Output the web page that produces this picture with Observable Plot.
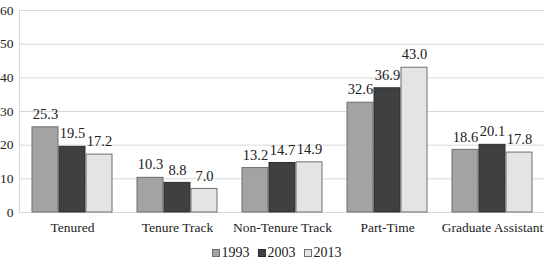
<!DOCTYPE html>
<html>
<head>
<meta charset="utf-8">
<script src="https://cdn.jsdelivr.net/npm/d3@7"></script>
<script src="https://cdn.jsdelivr.net/npm/@observablehq/plot@0.6"></script>
<style>
  html, body { margin: 0; padding: 0; background: #fff; }
  #chart { position: relative; width: 553px; height: 240px; }
  #chart svg { position: absolute; left: 0; top: 0; font-family: 'Liberation Serif' !important; }
  #chart svg text { font-family: 'Liberation Serif' !important; }
  #legend { width: 553px; height: 23px; display: flex; justify-content: center; align-items: center;
            font-family: 'Liberation Serif' !important; font-size: 14px; color: #222; padding-top: 3px; box-sizing: border-box; padding-left: 0px; }
  .item { display: flex; align-items: center; margin: 0 4px; }
  .sw { width: 8px; height: 8px; box-sizing: border-box; border: 1px solid #6f6f6f; margin-right: 2px; }
</style>
</head>
<body>
<div id="chart"></div>
<div id="legend"></div>
<script>
const categories = ["Tenured", "Tenure Track", "Non-Tenure Track", "Part-Time", "Graduate Assistant"];
const years = ["1993", "2003", "2013"];
const values1993 = [25.3, 10.3, 13.2, 32.6, 18.6];
const values2003 = [19.5, 8.8, 14.7, 36.9, 20.1];
const values2013 = [17.2, 7.0, 14.9, 43.0, 17.8];
const yTicks = [0, 10, 20, 30, 40, 50, 60];
const fills = ["#a3a3a3", "#404040", "#e4e4e4"];
const strokes = ["#6f6f6f", "#2e2e2e", "#6f6f6f"];

const series = [values1993, values2003, values2013];
const rows = [];
categories.forEach((c, i) => years.forEach((y, j) => rows.push({category: c, year: y, value: series[j][i]})));

const W = 553, H = 240;
const margins = {marginLeft: 19, marginRight: 9, marginTop: 10, marginBottom: 28};
const font = {fontFamily: "Liberation Serif", fontSize: "13.5px", background: "transparent", color: "#222", overflow: "visible"};

const base = Plot.plot({
  width: W, height: H, ...margins, style: font,
  x: {domain: [0, 1], axis: null},
  y: {domain: [0, 60], ticks: yTicks, tickSize: 0, tickPadding: 6, label: null, tickFormat: d => String(d)},
  marks: [
    Plot.ruleY(yTicks, {stroke: "#d9d9d9", strokeOpacity: 1}),
    Plot.ruleX([0], {stroke: "#d9d9d9", strokeOpacity: 1})
  ]
});

const bars = Plot.plot({
  width: W, height: H, ...margins, style: font,
  facet: {data: rows, x: "category"},
  fx: {domain: categories, paddingInner: 0.22, paddingOuter: 0.11, axis: "bottom", tickSize: 0, tickPadding: 10, label: null},
  x: {domain: years, axis: null, paddingInner: 0.05, paddingOuter: 0},
  y: {domain: [0, 60], axis: null},
  color: {domain: years, range: fills},
  marks: [
    Plot.barY(rows, {x: "year", y: "value", fill: "year", stroke: d => strokes[years.indexOf(d.year)], strokeWidth: 1}),
    Plot.text(rows, {x: "year", y: "value", text: d => d.value.toFixed(1), dy: -13, fontSize: 14.5, fill: "#222"})
  ]
});

const chart = document.getElementById("chart");
chart.appendChild(base);
chart.appendChild(bars);

const legend = document.getElementById("legend");
years.forEach((y, j) => {
  const it = document.createElement("div");
  it.className = "item";
  const sw = document.createElement("div");
  sw.className = "sw";
  sw.style.background = fills[j];
  sw.style.borderColor = strokes[j];
  it.appendChild(sw);
  const t = document.createElement("span");
  t.textContent = y;
  it.appendChild(t);
  legend.appendChild(it);
});
</script>
</body>
</html>
